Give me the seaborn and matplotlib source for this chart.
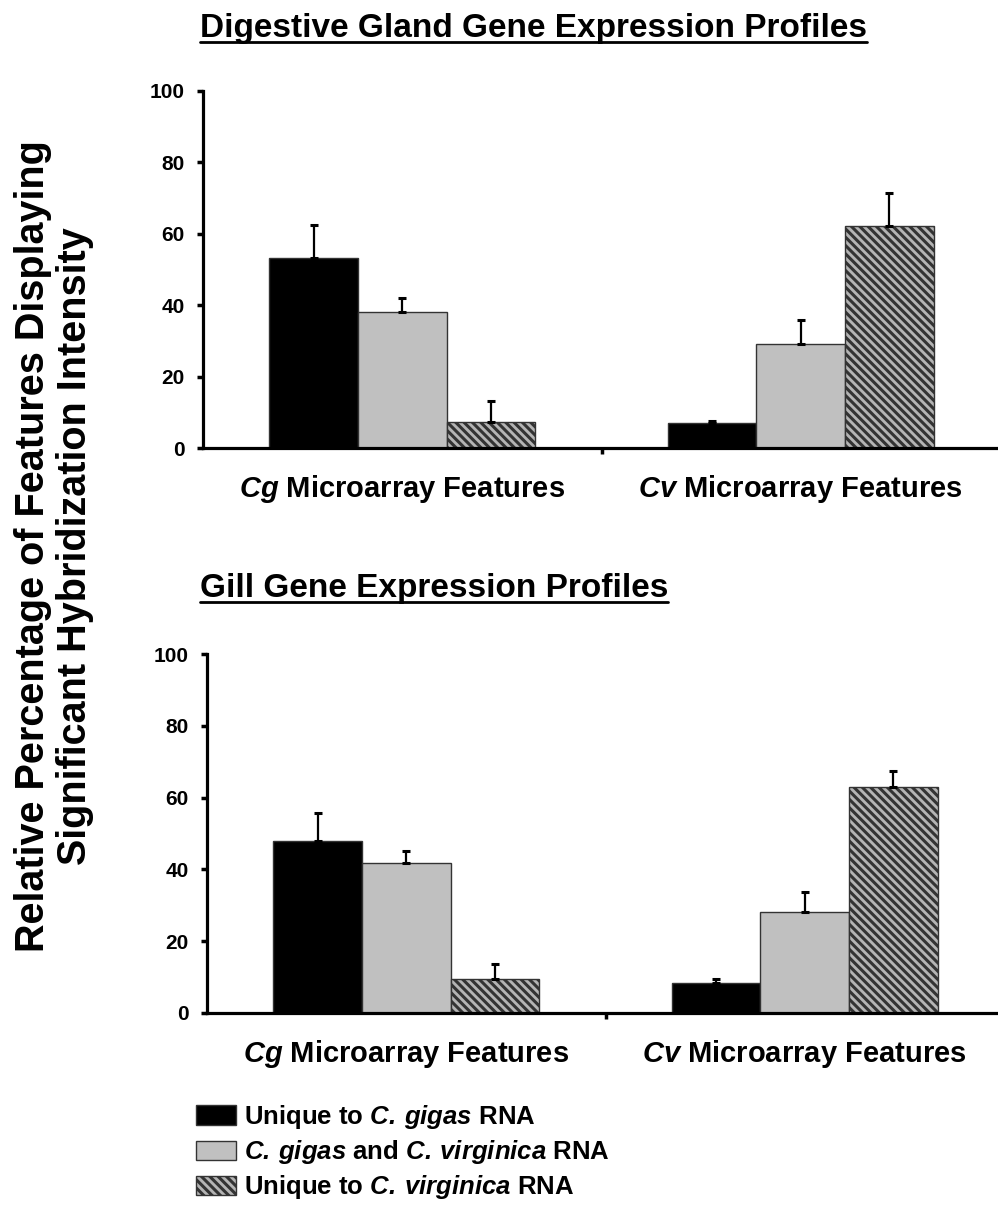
import matplotlib
matplotlib.use("Agg")
import matplotlib.pyplot as plt
from matplotlib.patches import Patch
from matplotlib.lines import Line2D
from matplotlib import font_manager
import seaborn as sns
import pandas as pd

# ---- data -------------------------------------------------------------
groups = ["Cg", "Cv"]
group_labels = [r"$\mathbfit{Cg}$ Microarray Features",
                r"$\mathbfit{Cv}$ Microarray Features"]
series = ["Unique to C. gigas RNA",
          "C. gigas and C. virginica RNA",
          "Unique to C. virginica RNA"]
series_labels = [r"Unique to $\mathbfit{C.\,gigas}$ RNA",
                 r"$\mathbfit{C.\,gigas}$ and $\mathbfit{C.\,virginica}$ RNA",
                 r"Unique to $\mathbfit{C.\,virginica}$ RNA"]

# digestive gland: rows = series, columns = groups (Cg, Cv)
dg_mean = [[53.2, 7.0], [38.1, 29.1], [7.3, 62.2]]
dg_err = [[9.3, 0.6], [3.9, 6.7], [5.9, 9.2]]
# gill
gill_mean = [[47.9, 8.4], [41.8, 28.1], [9.5, 63.0]]
gill_err = [[7.8, 1.1], [3.3, 5.6], [4.1, 4.4]]

panel_titles = ["Digestive Gland Gene Expression Profiles",
                "Gill Gene Expression Profiles"]
y_ticks = [0, 20, 40, 60, 80, 100]

# ---- style ------------------------------------------------------------
sns.set_style("ticks")
available = {f.name for f in font_manager.fontManager.ttflist}
base_font = "Liberation Sans" if "Liberation Sans" in available else "DejaVu Sans"
plt.rcParams["font.family"] = [base_font, "DejaVu Sans"]
plt.rcParams["font.weight"] = "bold"
plt.rcParams["text.color"] = "black"
plt.rcParams["axes.labelcolor"] = "black"
plt.rcParams["xtick.color"] = "black"
plt.rcParams["ytick.color"] = "black"
plt.rcParams["mathtext.fontset"] = "custom"
plt.rcParams["mathtext.rm"] = f"{base_font}:bold"
plt.rcParams["mathtext.bf"] = f"{base_font}:bold"
plt.rcParams["mathtext.it"] = f"{base_font}:bold:italic"
plt.rcParams["mathtext.bfit"] = f"{base_font}:bold:italic"
plt.rcParams["hatch.linewidth"] = 2.2
plt.rcParams["hatch.color"] = "black"

colors = ["#000000", "#c0c0c0", "#b4b4b4"]
hatches = [None, None, "\\\\\\\\"]

W, H = 998, 1216
fig = plt.figure(figsize=(W / 100, H / 100), dpi=100)

# axes placement in pixels: (left, top, right, bottom)
boxes = [(203, 91, 1000, 448), (207, 654, 1004, 1013)]
means = [dg_mean, gill_mean]
errs = [dg_err, gill_err]

for k in range(2):
    l, t, r, b = boxes[k]
    ax = fig.add_axes([l / W, 1 - b / H, (r - l) / W, (b - t) / H])
    rows = []
    for i, s in enumerate(series):
        for j, g in enumerate(groups):
            rows.append({"group": g, "series": s, "value": means[k][i][j]})
    df = pd.DataFrame(rows)
    sns.barplot(data=df, x="group", y="value", hue="series",
                order=groups, hue_order=series, palette=colors,
                width=0.667, gap=0, errorbar=None, legend=False,
                edgecolor="#333333", linewidth=1.0, ax=ax, zorder=2)
    bar_containers = list(ax.containers)
    for i, cont in enumerate(bar_containers):
        for j, bar in enumerate(cont):
            if hatches[i]:
                bar.set_hatch(hatches[i])
            xc = bar.get_x() + bar.get_width() / 2
            ax.errorbar(xc, bar.get_height(), yerr=[[0], [errs[k][i][j]]],
                        fmt="none", ecolor="black", elinewidth=1.6,
                        capsize=3, capthick=2.2, zorder=3)

    ax.set_xlim(-0.5, 1.5)
    ax.set_ylim(0, 100)
    ax.set_yticks(y_ticks)
    ax.set_yticklabels([str(v) for v in y_ticks], fontsize=15, fontweight="bold")
    ax.set_xticks(range(len(groups)))
    ax.set_xticklabels(group_labels, fontsize=21, fontweight="bold")
    ax.set_xticks([0.5], minor=True)
    ax.tick_params(axis="x", which="major", length=0, pad=18)
    ax.tick_params(axis="x", which="minor", length=4, width=2.5, direction="out")
    ax.tick_params(axis="y", length=4, width=2.5, direction="out", pad=9)
    ax.set_xlabel("")
    ax.set_ylabel("")
    for side in ["top", "right"]:
        ax.spines[side].set_visible(False)
    for side in ["left", "bottom"]:
        ax.spines[side].set_linewidth(2.3)
        ax.spines[side].set_color("black")

# panel titles, underlined
title_pos = [(200, 37), (200, 597)]
fig.canvas.draw()
renderer = fig.canvas.get_renderer()
for (tx, ty), title in zip(title_pos, panel_titles):
    txt = fig.text(tx / W, 1 - ty / H, title, fontsize=24, fontweight="bold",
                   ha="left", va="baseline")
    bb = txt.get_window_extent(renderer=renderer)
    uy = (1 - (ty + 5) / H)
    fig.add_artist(Line2D([bb.x0 / W, bb.x1 / W], [uy, uy],
                          transform=fig.transFigure, color="black", lw=2.0))

# shared y label
fig.text(54 / W, 1 - 546 / H,
         "Relative Percentage of Features Displaying\nSignificant Hybridization Intensity",
         rotation=90, ha="center", va="center", multialignment="center",
         fontsize=28.5, fontweight="bold", linespacing=1.15)

# legend
handles = [Patch(facecolor=c, edgecolor="#333333", linewidth=1.0, hatch=h)
           for c, h in zip(colors, hatches)]
fig.legend(handles, series_labels, loc="upper left",
           bbox_to_anchor=(196 / W, 1 - 1103 / H), frameon=False,
           prop={"size": 18.5, "weight": "bold"}, handlelength=1.55,
           handleheight=0.78, handletextpad=0.3, labelspacing=0.28,
           borderpad=0, borderaxespad=0)

fig.savefig("out.png", dpi=100)
